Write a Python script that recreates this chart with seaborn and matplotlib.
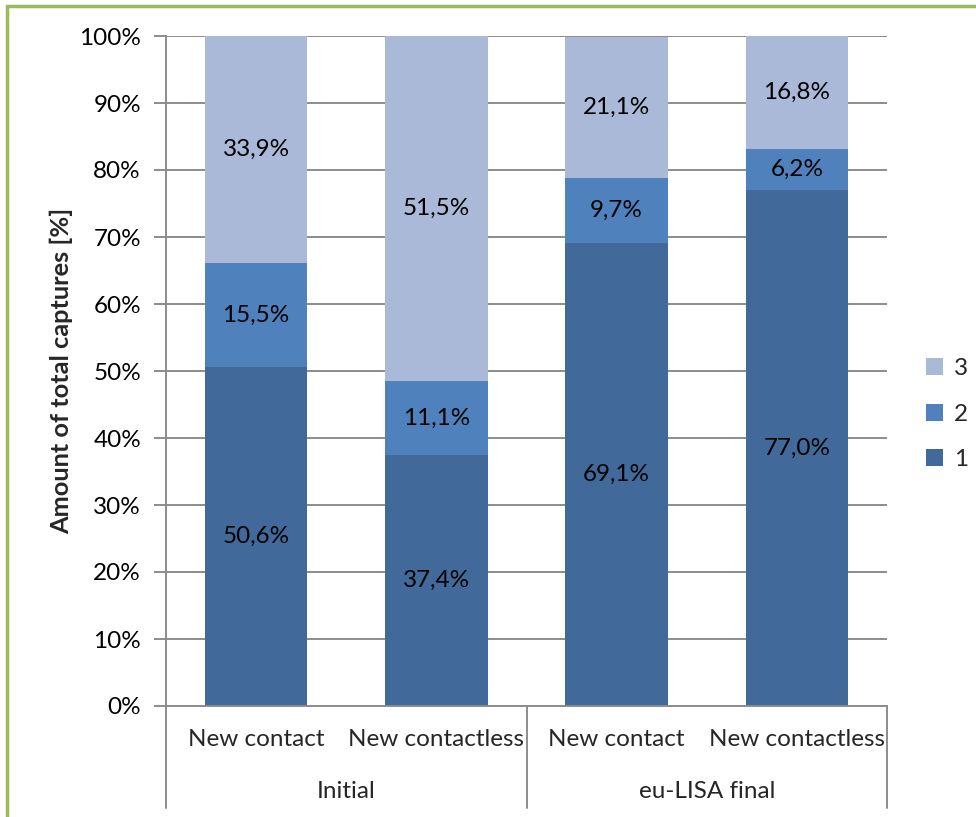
import matplotlib
matplotlib.use("Agg")
import matplotlib.pyplot as plt
from matplotlib.patches import Patch, Rectangle
import seaborn as sns
import pandas as pd
import numpy as np

# Shares of total captures per capture type (percent)
groups = ["Initial", "Initial", "eu-LISA final", "eu-LISA final"]
subcats = ["New contact", "New contactless", "New contact", "New contactless"]
series_1 = [50.6, 37.4, 69.1, 77.0]
series_2 = [15.5, 11.1, 9.7, 6.2]
series_3 = [33.9, 51.5, 21.1, 16.8]
series_names = ["1", "2", "3"]
colors = ["#416A9B", "#4F81BD", "#AAB9D7"]
group_names = ["Initial", "eu-LISA final"]

sns.set_theme(style="white")
plt.rcParams["font.family"] = ["Lato", "DejaVu Sans"]
FS = 17.5

keys = [f"{g}|{s}" for g, s in zip(groups, subcats)]
df = pd.DataFrame({"key": keys, "s1": series_1, "s2": series_2, "s3": series_3})
df["c1"] = df["s1"]
df["c2"] = df["s1"] + df["s2"]
df["c3"] = df["s1"] + df["s2"] + df["s3"]

fig = plt.figure(figsize=(9.76, 8.17), dpi=100)
ax = fig.add_axes([166 / 976, 1 - 706 / 817, 721 / 976, 670 / 817])

grid_col = "#8C8C8C"
ax.set_axisbelow(True)
ax.yaxis.grid(True, color=grid_col, linewidth=1.4)

# stacked bars: draw cumulative totals from the top segment down
for col, c in zip(["c3", "c2", "c1"], colors[::-1]):
    sns.barplot(data=df, x="key", y=col, order=keys, color=c, width=0.57,
                saturation=1, ax=ax, errorbar=None, edgecolor="none")

ax.set_ylim(0, 100)
ax.set_xlim(-0.5, 3.5)
ax.set_yticks(np.arange(0, 101, 10))
ax.set_yticklabels([f"{v}%" for v in range(0, 101, 10)], fontsize=FS, color="black")
ax.tick_params(axis="y", length=9, width=1.4, color=grid_col, left=True, pad=9)
ax.set_xticks([])
ax.set_xlabel("")
ax.set_ylabel("Amount of total captures [%]", fontsize=18.3, fontweight="bold",
              labelpad=4)

for side in ["top", "right"]:
    ax.spines[side].set_visible(False)
ax.spines["left"].set_color(grid_col)
ax.spines["left"].set_linewidth(1.4)
ax.spines["bottom"].set_color(grid_col)
ax.spines["bottom"].set_linewidth(1.4)

# segment value labels
for i in range(len(keys)):
    base = 0.0
    for vals in (series_1, series_2, series_3):
        v = vals[i]
        ax.text(i, base + v / 2, f"{v:.1f}%".replace(".", ","), ha="center",
                va="center", fontsize=FS, color="black")
        base += v

# two-level category axis
tr = ax.transAxes
low = -102 / 670
for xpos in [0, 0.5, 1.0]:
    ax.plot([xpos, xpos], [0, low], transform=tr, color=grid_col, lw=1.4,
            clip_on=False)
for i, s in enumerate(subcats):
    ax.text((i + 0.5) / 4, -34 / 670, s, transform=tr, ha="center", va="center",
            fontsize=FS)
for j, g in enumerate(group_names):
    ax.text(0.25 + 0.5 * j, -86 / 670, g, transform=tr, ha="center",
            va="center", fontsize=FS)

# legend
handles = [Patch(facecolor=colors[k], edgecolor="none") for k in (2, 1, 0)]
labels = [series_names[k] for k in (2, 1, 0)]
fig.legend(handles, labels, loc="center left", bbox_to_anchor=(926 / 976, 0.493),
           frameon=False, fontsize=FS, handlelength=0.7, handleheight=0.7,
           handletextpad=0.45, labelspacing=1.0, borderpad=0, borderaxespad=0)

# chart border
fig.patches.append(Rectangle((7 / 976, -0.05), 1.2, 1 - 6 / 817 + 0.05,
                             transform=fig.transFigure, fill=False,
                             edgecolor="#9BBB59", linewidth=2.5))

fig.savefig("out.png", dpi=100)
